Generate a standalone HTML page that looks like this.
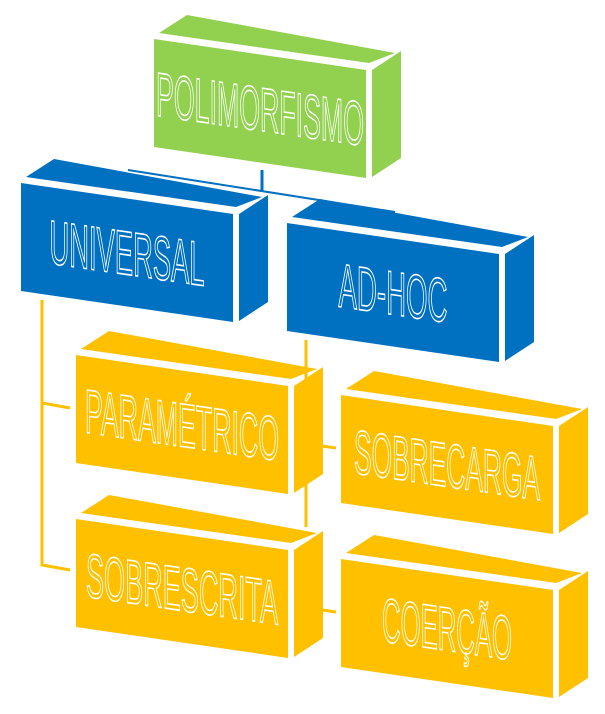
<!DOCTYPE html>
<html><head><meta charset="utf-8"><style>
html,body{margin:0;padding:0;background:#fff;}
svg{display:block;}
text{font-family:"Liberation Sans Narrow","Liberation Sans",sans-serif;}
</style></head><body>
<svg id="d" width="605" height="714" viewBox="0 0 605 714" xmlns="http://www.w3.org/2000/svg">
<g>
<line x1="262" y1="170" x2="262" y2="192" stroke="#0070c0" stroke-width="3"/>
<line x1="128" y1="170" x2="395" y2="212" stroke="#0070c0" stroke-width="2"/>
<polyline points="70,408 42,403 42,300 42,565 70,570" fill="none" stroke="#ffc000" stroke-width="3"/>
<line x1="306" y1="340" x2="306" y2="527" stroke="#ffc000" stroke-width="3"/>
<line x1="322" y1="446" x2="336" y2="448" stroke="#ffc000" stroke-width="3"/>
<line x1="322" y1="610" x2="336" y2="612" stroke="#ffc000" stroke-width="3"/>
</g>
</svg>
<script>
const labels=["POLIMORFISMO","UNIVERSAL","AD-HOC","PARAMÉTRICO","SOBRECARGA","SOBRESCRITA","COERÇÃO"];
const names=["polimorfismo-box","universal-box","adhoc-box","parametrico-box","sobrecarga-box","sobrescrita-box","coercao-box"];
const lefts=[154,21,287,76,341,76,341];
const tops=[39,183,223,355,395,519,559];
const colors=["#92d050","#0070c0","#0070c0","#ffc000","#ffc000","#ffc000","#ffc000"];
const textLens=[208,155,109,194,186,192,130];
const W=212,H=108,S=31/212;
const NS="http://www.w3.org/2000/svg";
const svg=document.getElementById('d');
function P(a){return a.map(p=>p.join(',')).join(' ');}
for(let i=0;i<labels.length;i++){
  const L=lefts[i],T=tops[i],R=L+W,TR=T+W*S,c=colors[i];
  const g=document.createElementNS(NS,'g');
  
  
  const top=document.createElementNS(NS,'polygon');
  top.setAttribute('points',P([[L+5,T-6],[L+33,T-24],[R+29,TR-17],[R+3,TR-7]]));
  top.setAttribute('fill',c);
  
  
  const side=document.createElementNS(NS,'polygon');
  side.setAttribute('points',P([[R+6,TR],[R+35,TR-19],[R+35,TR+H-20],[R+6,TR+H-1]]));
  side.setAttribute('fill',c);
  
  
  const front=document.createElementNS(NS,'polygon');
  front.setAttribute('points',P([[L,T],[R,TR],[R,TR+H],[L,T+H]]));
  front.setAttribute('fill',c);
  
  
  g.appendChild(top);g.appendChild(side);g.appendChild(front);
  const cx=L+W/2, cy=T+(W/2)*S+H/2;
  const t=document.createElementNS(NS,'text');
  
  
  t.setAttribute('transform','translate('+cx+','+cy+') skewY(8.3)');
  t.setAttribute('x',0);t.setAttribute('y',22);
  t.setAttribute('text-anchor','middle');
  t.setAttribute('font-size','62');
  t.setAttribute('textLength',textLens[i]);
  t.setAttribute('lengthAdjust','spacingAndGlyphs');
  t.setAttribute('fill',c);
  t.setAttribute('stroke','#fff');
  t.setAttribute('stroke-width','1.6');
  t.textContent=labels[i];
  g.appendChild(t);
  svg.appendChild(g);
}
</script>
</body></html>
